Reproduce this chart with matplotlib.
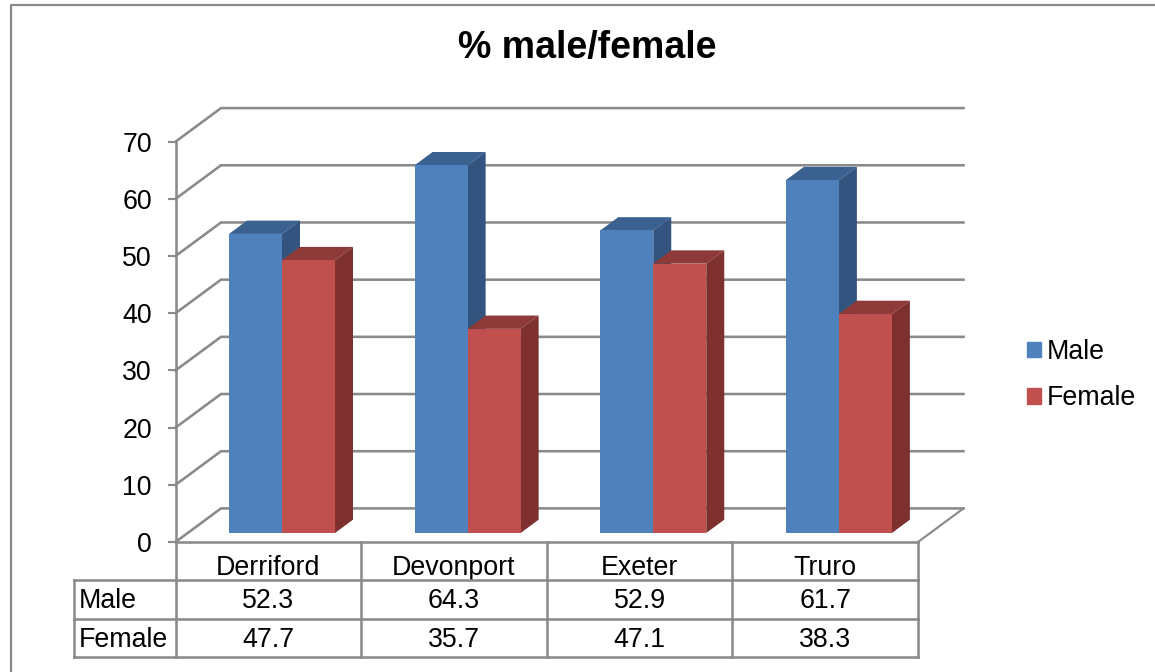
import matplotlib
matplotlib.use("Agg")
import matplotlib.pyplot as plt
from matplotlib.lines import Line2D

plt.rcParams['font.family'] = ['Liberation Sans', 'DejaVu Sans']

CATEGORIES = ["Derriford", "Devonport", "Exeter", "Truro"]
SERIES_NAMES = ["Male", "Female"]
MALE = [52.3, 64.3, 52.9, 61.7]
FEMALE = [47.7, 35.7, 47.1, 38.3]
Y_TICKS = [0, 10, 20, 30, 40, 50, 60, 70]

W, H = 1155, 672
AX_L, AX_R, AX_T, AX_B = 175.5, 918.0, 141.7, 542.0
GRAY = "#8a8a8a"
LW = 1.85
FS = 19.3
FACE = {"Male": ("#4F81BD", "#3A6190", "#32547F"),
        "Female": ("#C0504D", "#8E3A38", "#7D302E")}

fig = plt.figure(figsize=(W / 100, H / 100), dpi=100, facecolor="white")
ax = fig.add_axes([AX_L / W, 1 - AX_B / H, (AX_R - AX_L) / W, (AX_B - AX_T) / H])
ax.set_xlim(0, len(CATEGORIES))
ax.set_ylim(0, 70)
ax.patch.set_visible(False)

ux = (AX_R - AX_L) / len(CATEGORIES)   # px per category
uy = (AX_B - AX_T) / 70.0              # px per value unit
px = lambda v: v / ux
py = lambda v: v / uy
DX, DY = px(45.5), py(33.6)            # wall depth
BAR_W = px(53)
BAR_X0 = px(53.5)
BAR_Y0 = py(9)
BDX, BDY = px(18), py(13.3)            # bar depth

# walls / gridlines
for t in Y_TICKS:
    ax.plot([0, DX, len(CATEGORIES) + DX], [t, t + DY, t + DY], color=GRAY, lw=LW,
            clip_on=False, zorder=1, solid_joinstyle="miter")
ax.plot([len(CATEGORIES), len(CATEGORIES) + DX], [0, DY], color=GRAY, lw=LW - 0.3, clip_on=False, zorder=1)

# bars
for i in range(len(CATEGORIES)):
    for j, (name, vals) in enumerate(zip(SERIES_NAMES, (MALE, FEMALE))):
        front, top, side = FACE[name]
        x0 = i + BAR_X0 + j * BAR_W
        y1 = BAR_Y0 + vals[i]
        ax.bar(x0, vals[i], width=BAR_W, bottom=BAR_Y0, align="edge", color=front,
               linewidth=0, clip_on=False, zorder=3 + 2 * i + j)
        ax.fill([x0, x0 + BDX, x0 + BAR_W + BDX, x0 + BAR_W],
                [y1, y1 + BDY, y1 + BDY, y1], color=top, lw=0, clip_on=False, zorder=2.5 + 2 * i + j)
        ax.fill([x0 + BAR_W, x0 + BAR_W + BDX, x0 + BAR_W + BDX, x0 + BAR_W],
                [BAR_Y0, BAR_Y0 + BDY, y1 + BDY, y1], color=side, lw=0, clip_on=False,
                zorder=2.5 + 2 * i + j)

# axes
for s in ("top", "right"):
    ax.spines[s].set_visible(False)
for s in ("left", "bottom"):
    ax.spines[s].set_color(GRAY)
    ax.spines[s].set_linewidth(LW)
    ax.spines[s].set_zorder(20)
ax.set_yticks(Y_TICKS)
ax.tick_params(axis="y", length=6, width=1.5, color=GRAY, labelsize=FS, pad=11)
ax.set_xticks([])

# data table
ROW_H = 38.67
left_x = px(74.3 - AX_L)
row_lines = [py(-38), py(-38 - ROW_H), py(-38 - 2 * ROW_H)]
kw = dict(color=GRAY, lw=LW, clip_on=False, zorder=20, solid_capstyle="projecting")
for rl in row_lines:
    ax.plot([left_x, len(CATEGORIES)], [rl, rl], **kw)
ax.plot([left_x, left_x], [row_lines[0], row_lines[2]], **kw)
for k in range(len(CATEGORIES) + 1):
    ax.plot([k, k], [0, row_lines[2]], **kw)
for i, c in enumerate(CATEGORIES):
    ax.text(i + 0.5, py(-26), c, ha="center", va="center", fontsize=FS, color="black")
    ax.text(i + 0.5, py(-59), f"{MALE[i]:.1f}", ha="center", va="center", fontsize=FS, color="black")
    ax.text(i + 0.5, py(-98), f"{FEMALE[i]:.1f}", ha="center", va="center", fontsize=FS, color="black")
for name, yy in zip(SERIES_NAMES, (-59, -98)):
    ax.text(px(79 - AX_L), py(yy), name, ha="left", va="center", fontsize=FS, color="black")

# legend
handles = [plt.Rectangle((0, 0), 1, 1, color=FACE[n][0]) for n in SERIES_NAMES]
ax.legend(handles, SERIES_NAMES, loc="upper left", frameon=False, fontsize=FS,
          bbox_to_anchor=(1027 / W, 1 - 339 / H), bbox_transform=fig.transFigure,
          handlelength=0.53, handleheight=0.53, handletextpad=0.2, labelspacing=0.75,
          borderpad=0, borderaxespad=0)

# title
fig.text(587 / W, 1 - 48 / H, "% male/female", ha="center", va="center", fontsize=27,
         fontweight="bold", color="black")

# outer chart frame
fig.add_artist(Line2D([10.5 / W, 10.5 / W, 1.0], [0, 1 - 4.5 / H, 1 - 4.5 / H],
                      color=GRAY, lw=1.6, transform=fig.transFigure))

fig.savefig("out.png", dpi=100)
